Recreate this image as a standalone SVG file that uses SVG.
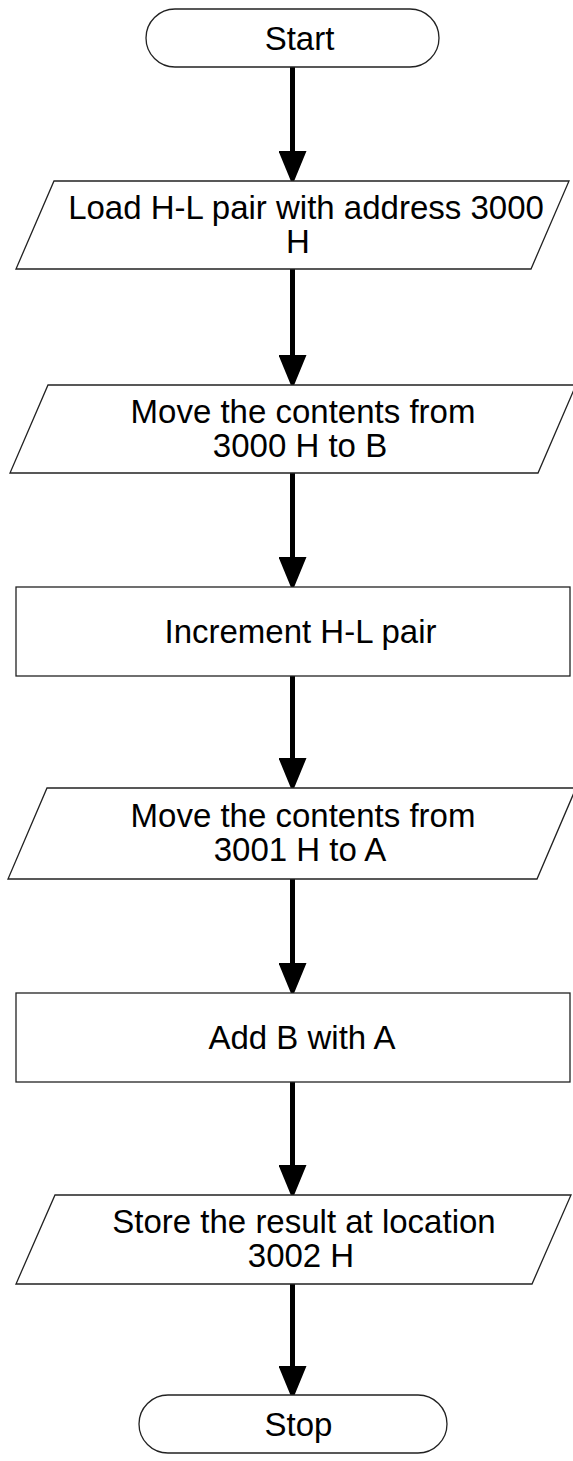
<svg xmlns="http://www.w3.org/2000/svg" width="573" height="1461" viewBox="0 0 573 1461">
<style>
.shape{fill:#ffffff;stroke:#222222;stroke-width:1.3}
.lbl{font-family:"Liberation Sans",Arial,sans-serif;font-size:33px;fill:#000000;text-anchor:middle}
.conn{stroke:#000000;stroke-width:5;fill:none}
</style>
<defs>
<marker id="arrow" markerUnits="userSpaceOnUse" markerWidth="34" markerHeight="28" viewBox="0 0 34 28" refX="0" refY="14" orient="auto">
<path d="M0,0 L34,14 L0,28 Z" fill="#000000"/>
</marker>
</defs>
<rect width="573" height="1461" fill="#ffffff"/>
<g id="connectors">
<line class="conn" x1="292.5" y1="67" x2="292.5" y2="151" marker-end="url(#arrow)"/>
<line class="conn" x1="292.5" y1="269" x2="292.5" y2="355" marker-end="url(#arrow)"/>
<line class="conn" x1="292.5" y1="473" x2="292.5" y2="557" marker-end="url(#arrow)"/>
<line class="conn" x1="292.5" y1="676" x2="292.5" y2="758" marker-end="url(#arrow)"/>
<line class="conn" x1="292.5" y1="879" x2="292.5" y2="963" marker-end="url(#arrow)"/>
<line class="conn" x1="292.5" y1="1082" x2="292.5" y2="1165" marker-end="url(#arrow)"/>
<line class="conn" x1="292.5" y1="1284" x2="292.5" y2="1366" marker-end="url(#arrow)"/>
</g>
<g id="start">
<rect class="shape" x="146" y="9" width="293" height="58" rx="29" ry="29"/>
<text class="lbl" x="299.5" y="50">Start</text>
</g>
<g id="load">
<polygon class="shape" points="54,181 569,181 531,269 16,269"/>
<text class="lbl" x="306" y="219">Load H-L pair with address 3000</text>
<text class="lbl" x="298" y="253">H</text>
</g>
<g id="move1">
<polygon class="shape" points="48,385 576,385 538,473 10,473"/>
<text class="lbl" x="303" y="423">Move the contents from</text>
<text class="lbl" x="300" y="457">3000 H to B</text>
</g>
<g id="increment">
<rect class="shape" x="16" y="587" width="554" height="89"/>
<text class="lbl" x="300.5" y="643">Increment H-L pair</text>
</g>
<g id="move2">
<polygon class="shape" points="47,788 576,788 537,879 8,879"/>
<text class="lbl" x="303" y="827">Move the contents from</text>
<text class="lbl" x="300" y="861">3001 H to A</text>
</g>
<g id="add">
<rect class="shape" x="16" y="993" width="554" height="89"/>
<text class="lbl" x="302" y="1049">Add B with A</text>
</g>
<g id="store">
<polygon class="shape" points="55,1195 571,1195 532,1284 16,1284"/>
<text class="lbl" x="304" y="1233">Store the result at location</text>
<text class="lbl" x="301" y="1267">3002 H</text>
</g>
<g id="stop">
<rect class="shape" x="139" y="1395" width="308" height="58" rx="29" ry="29"/>
<text class="lbl" x="298.5" y="1436">Stop</text>
</g>
</svg>
